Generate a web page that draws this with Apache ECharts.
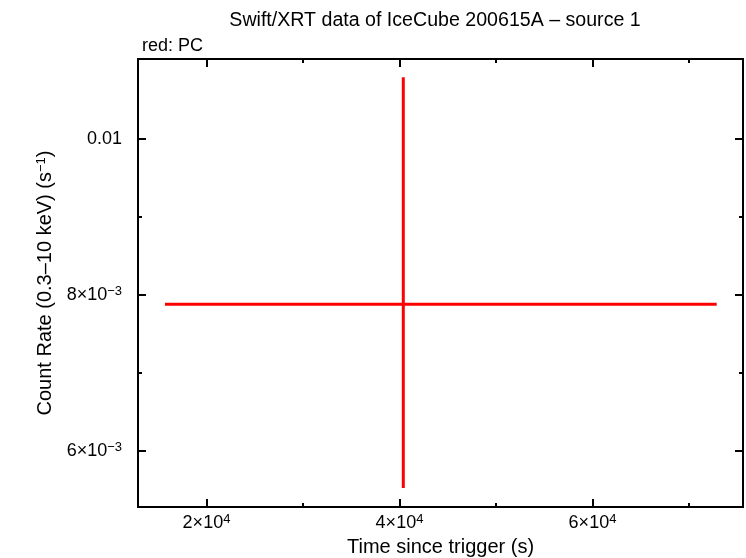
<!DOCTYPE html>
<html>
<head>
<meta charset="utf-8">
<script src="https://cdn.jsdelivr.net/npm/echarts@6/dist/echarts.min.js"></script>
<style>
html,body{margin:0;padding:0;background:#fff;}
#c{width:746px;height:558px;}
</style>
</head>
<body>
<div id="c"></div>
<script>
// ---- data ----
const time      = [40394];      // s
const timeLo    = [15699];      // left end of x error bar
const timeHi    = [72870];      // right end of x error bar
const rate      = [0.007881];   // count/s
const rateLo    = [0.005526];
const rateHi    = [0.010791];

// ---- axes ----
const xMin = 12902, xMax = 75596;
const yMin = 0.005282, yMax = 0.011026;
const xMajor = [20000, 40000, 60000];
const xMinor = [30000, 50000, 70000];
const xLabels = ['2×10{s|4}', '4×10{s|4}', '6×10{s|4}'];
const yMajor = [0.006, 0.008, 0.01];
const yMinor = [0.007, 0.009];
const yLabels = ['6×10{s|−3}', '8×10{s|−3}', '0.01'];

const FONT = "'Liberation Sans', Arial, Helvetica, sans-serif";
const rich = {
  s: { fontSize: 13, fontFamily: FONT, color: '#000', padding: [0, 0, 8, 0] }
};

const chart = echarts.init(document.getElementById('c'));

function xAxisDef(pos, ticks, len, labels) {
  return {
    type: 'value', position: pos, min: xMin, max: xMax,
    splitLine: { show: false }, axisLine: { show: false },
    axisTick: { show: true, inside: true, length: len, customValues: ticks,
                lineStyle: { color: '#000', width: 2 } },
    axisLabel: labels ? {
      show: true, customValues: ticks, margin: 6, color: '#000',
      fontSize: 18, fontFamily: FONT, rich: rich,
      formatter: v => labels[ticks.indexOf(v)] || ''
    } : { show: false }
  };
}
function yAxisDef(pos, ticks, len, labels) {
  return {
    type: 'value', position: pos, min: yMin, max: yMax,
    splitLine: { show: false }, axisLine: { show: false },
    axisTick: { show: true, inside: true, length: len, customValues: ticks,
                lineStyle: { color: '#000', width: 2 } },
    axisLabel: labels ? {
      show: true, customValues: ticks, margin: 16, color: '#000',
      fontSize: 18, fontFamily: FONT, rich: rich,
      formatter: v => {
        const i = ticks.findIndex(t => Math.abs(t - v) < 1e-9);
        return i >= 0 ? labels[i] : '';
      }
    } : { show: false }
  };
}

const xAxes = [
  xAxisDef('bottom', xMajor, 8, xLabels),
  xAxisDef('bottom', xMinor, 4, null),
  xAxisDef('top', xMajor, 8, null),
  xAxisDef('top', xMinor, 4, null)
];
xAxes[0].name = 'Time since trigger (s)';
xAxes[0].nameLocation = 'middle';
xAxes[0].nameGap = 30;
xAxes[0].nameTextStyle = { color: '#000', fontSize: 20, fontFamily: FONT };

const yAxes = [
  yAxisDef('left', yMajor, 8, yLabels),
  yAxisDef('left', yMinor, 4, null),
  yAxisDef('right', yMajor, 8, null),
  yAxisDef('right', yMinor, 4, null)
];
yAxes[0].name = 'Count Rate (0.3–10 keV) (s{s|−1})';
yAxes[0].nameLocation = 'middle';
yAxes[0].nameGap = 80;
yAxes[0].nameTextStyle = { color: '#000', fontSize: 20, fontFamily: FONT,
  rich: { s: { fontSize: 13, fontFamily: FONT, color: '#000', padding: [0, 0, 9, 0] } } };

const pts = time.map((t, i) => [t, timeLo[i], timeHi[i], rate[i], rateLo[i], rateHi[i]]);

chart.setOption({
  animation: false,
  backgroundColor: '#fff',
  title: [{
    text: 'Swift/XRT data of IceCube 200615A – source 1',
    left: 430, top: 6, textAlign: 'center',
    textStyle: { color: '#000', fontSize: 19.6, fontWeight: 'normal', fontFamily: FONT }
  }, {
    text: 'red: PC',
    left: 137, top: 32,
    textStyle: { color: '#000', fontSize: 18, fontWeight: 'normal', fontFamily: FONT }
  }],
  grid: {
    left: 138, top: 59, right: 3, bottom: 51,
    outerBoundsMode: 'none', containLabel: false,
    show: true, borderColor: '#000', borderWidth: 2, backgroundColor: 'transparent'
  },
  xAxis: xAxes,
  yAxis: yAxes,
  series: [{
    type: 'custom',
    xAxisIndex: 0, yAxisIndex: 0,
    data: pts,
    encode: { x: [0, 1, 2], y: [3, 4, 5] },
    renderItem: function (params, api) {
      const x = api.value(0), xl = api.value(1), xh = api.value(2);
      const y = api.value(3), yl = api.value(4), yh = api.value(5);
      const a = api.coord([xl, y]), b = api.coord([xh, y]);
      const c = api.coord([x, yl]), d = api.coord([x, yh]);
      const style = { stroke: '#ff0000', lineWidth: 3 };
      return {
        type: 'group',
        children: [
          { type: 'line', shape: { x1: a[0], y1: a[1], x2: b[0], y2: b[1] }, style: style },
          { type: 'line', shape: { x1: c[0], y1: c[1], x2: d[0], y2: d[1] }, style: style }
        ]
      };
    }
  }]
});
</script>
</body>
</html>
